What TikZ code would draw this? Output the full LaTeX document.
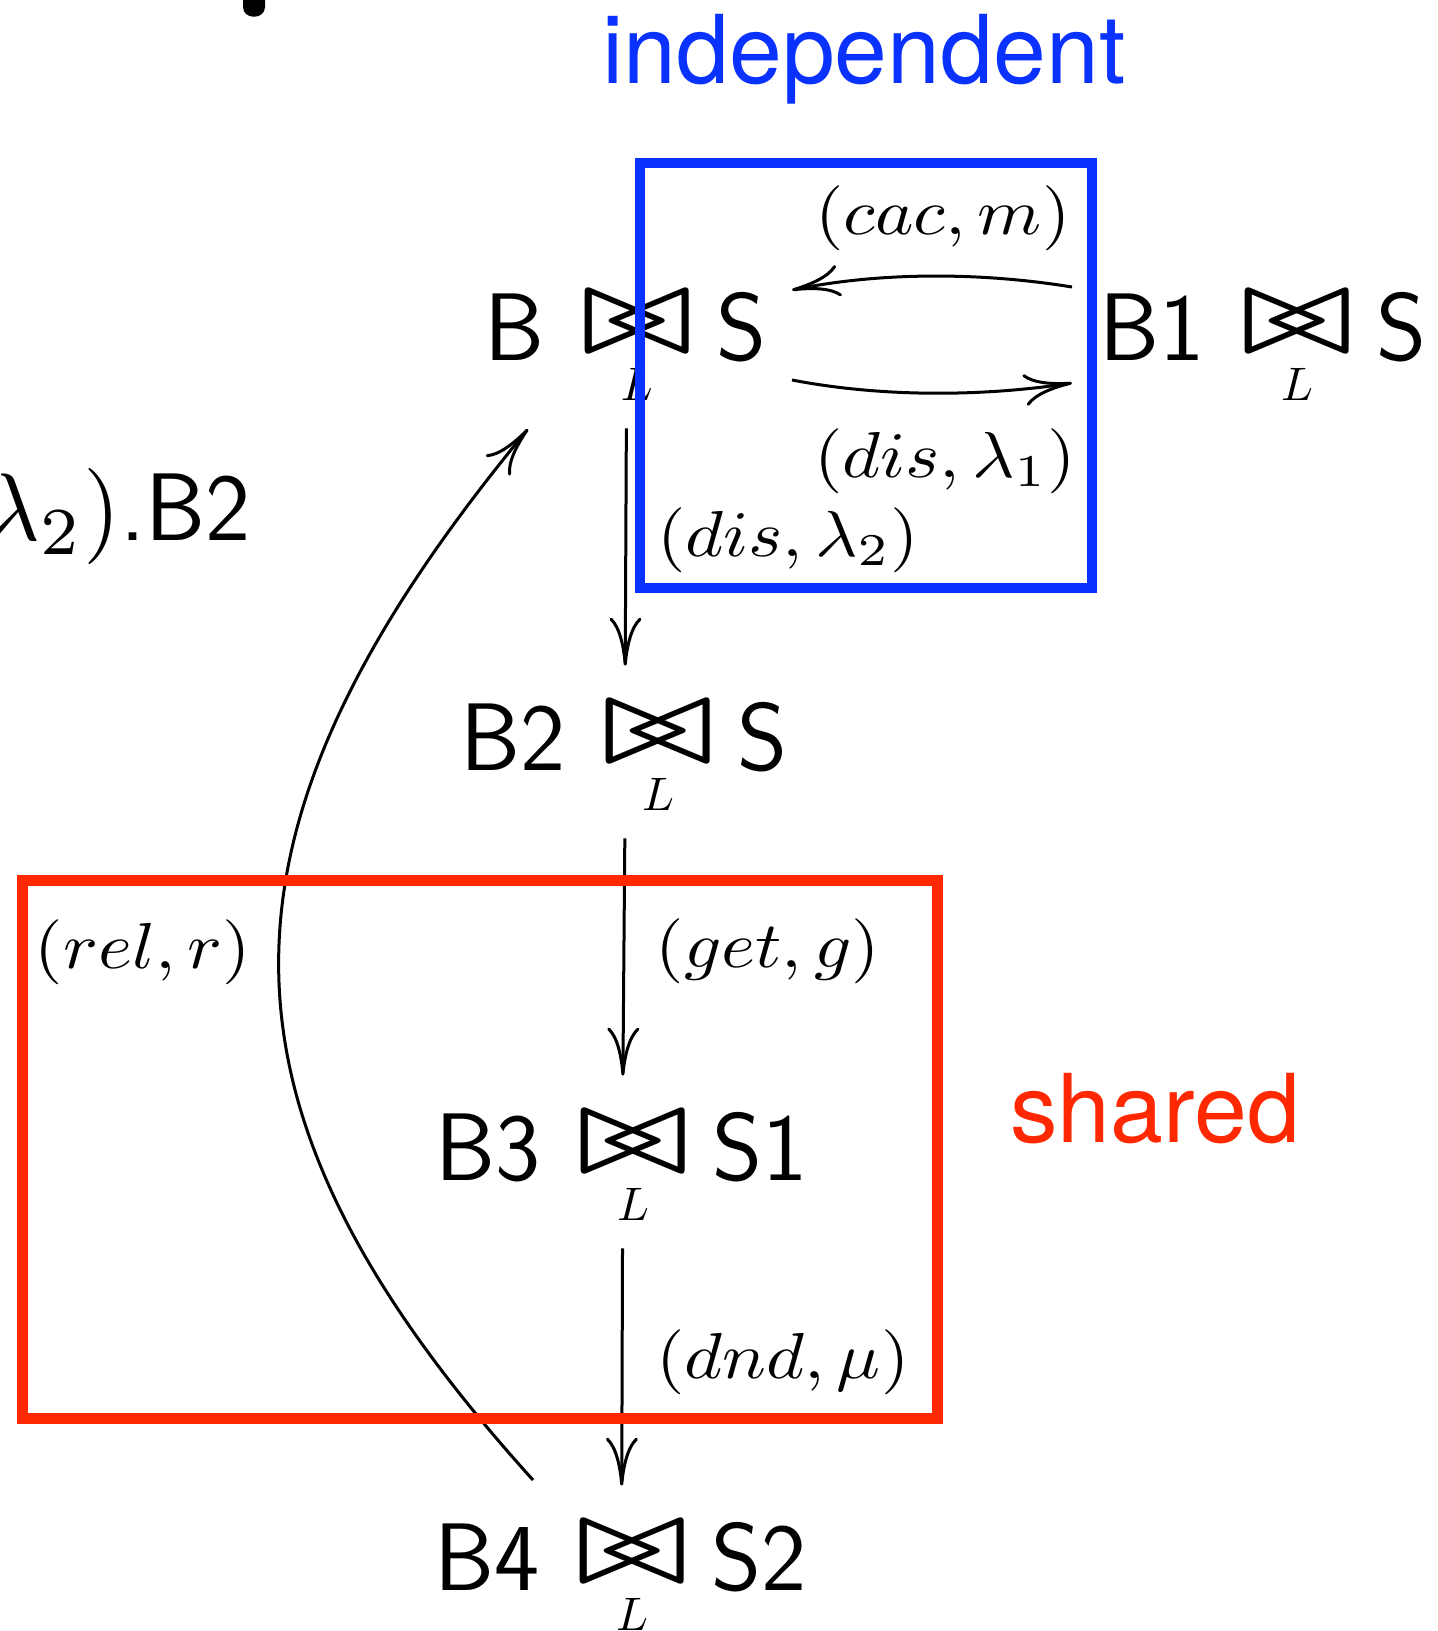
\documentclass[tikz,border=0pt]{standalone}
\usepackage{graphicx}
\usepackage{fontspec}
\newfontfamily\helv{TeX Gyre Heros}
\usetikzlibrary{arrows.meta,calc}
\definecolor{myblue}{RGB}{10,50,255}
\definecolor{myred}{RGB}{255,40,0}
\newcommand\mth[2]{\scalebox{#1}{\fontsize{10}{12}\selectfont$#2$}}
\newcommand\mthw[2]{\scalebox{7.3}[6.5]{\fontsize{10}{12}\selectfont$#2$}}
\newcommand\bwt{\raisebox{7pt}{\scalebox{17.9}[13.0]{\fontsize{10}{12}\selectfont$\mathrel\triangleright\mkern-6.6mu\mathrel\triangleleft$}}}
\newcommand\jn{\vtop{\offinterlineskip\halign{\hfil##\hfil\cr
  \bwt\cr\noalign{\kern 8pt}
  \mth{4.7}{L}\cr}}}
\newcommand\rl[2]{#1\hspace{36pt}\jn\hspace{23pt}#2}
\begin{document}
\begin{tikzpicture}[x=1pt,y=-1pt,
  rel/.style={inner sep=0pt, anchor=base west, font=\fontsize{96}{96}\selectfont\sffamily},
  lab/.style={inner sep=0pt, anchor=base},
  big/.style={inner sep=0pt, anchor=base, font=\fontsize{95}{95}\selectfont\helv},
  arr/.style={line width=3pt, -{Computer Modern Rightarrow[length=48pt,width=32pt]}},
  box/.style={line width=10pt}]
\useasboundingbox (0,0) rectangle (1438,1631);
% cut-off glyph at top
\fill (243,-1) -- (243,7) .. controls (243,20) and (265,20) .. (265,7) -- (265,-1) -- cycle;
% relations
\node[rel] (n1) at (484,360) {\rl{B}{S}};
\node[rel] (n5) at (1099,360) {\rl{B1}{S}};
\node[rel] (n2) at (460,770) {\rl{B2}{S}};
\node[rel] (n3) at (435,1180) {\rl{B3}{S1}};
\node[rel] (n4) at (434,1590) {\rl{B4}{S2}};
% texts
\node[big, text=myblue] (ind) at (864,83) {independent};
\node[big, text=myred] (sh) at (1155,1142) {shared};
\node[rel, anchor=base east] (frag) at (251,540) {\mth{9.6}{\lambda_2)}.B2};
% connectors
\draw[arr, shorten <=28pt, shorten >=36pt] ([xshift=1pt]n1.south) -- ([xshift=1pt]n2.north);
\draw[arr, shorten <=28pt, shorten >=36pt] ([xshift=1pt]n2.south) -- ([xshift=1pt]n3.north);
\draw[arr, shorten <=28pt, shorten >=36pt] ([xshift=1pt]n3.south) -- ([xshift=1pt]n4.north);
\draw[arr] ($(n5.base west)+(-27,-73)$) .. controls +(-92,-15) and +(88,-18) .. ($(n1.base west)+(308,-70)$);
\draw[arr] ($(n1.base west)+(308,20)$) .. controls +(88,17) and +(-92,14) .. ($(n5.base west)+(-27,23)$);
\draw[arr] ($(n4.base west)+(99,-110)$) .. controls (195,1106) and (195,833) .. ($(n1.base west)+(44,69)$);
% labels
\node[lab] (l1) at (943,234) {\mthw{}{(cac,m)}};
\node[lab] (l2) at (945,477) {\mthw{}{(dis,\lambda_1)}};
\node[lab] (l3) at (788,556) {\mthw{}{(dis,\lambda_2)}};
\node[lab] (l4) at (768,967) {\mthw{}{(get,g)}};
\node[lab] (l5) at (783,1378) {\mthw{}{(dnd,\mu)}};
\node[lab] (l6) at (143,968) {\mthw{}{(rel,r)}};
% boxes
\draw[box, myblue] (640,163) rectangle (1092,588);
\draw[box, myred, line width=11pt] (22,880) rectangle (937,1418);
\end{tikzpicture}
\end{document}
